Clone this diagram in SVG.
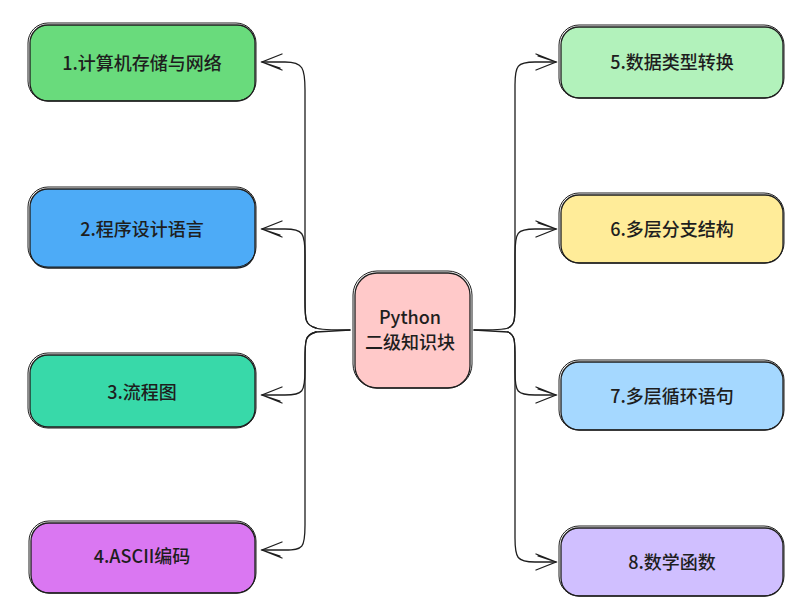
<svg xmlns="http://www.w3.org/2000/svg" width="803" height="615" viewBox="0 0 803 615">
<defs>
<marker id="arr" viewBox="0 0 24 24" refX="22" refY="12" markerWidth="24" markerHeight="24" markerUnits="userSpaceOnUse" orient="auto">
<path d="M2,4 L22,12 L2,20 M4,6 L22,12" fill="none" stroke="#1e1e1e" stroke-width="1.3" stroke-linecap="round"/>
</marker>
<style>
.lbl{font-family:"Noto Sans CJK SC","Noto Sans",sans-serif;font-size:18px;font-weight:500;fill:#1e1e1e;text-anchor:middle;dominant-baseline:central}
.box{stroke:#1e1e1e;stroke-width:1.3}
.ol{fill:none;stroke:#1e1e1e;stroke-width:1}
.cn{fill:none;stroke:#1e1e1e;stroke-width:1.3;stroke-linecap:round}
</style>
</defs>
<rect width="803" height="615" fill="#ffffff"/>
<g id="connectors">
<path class="cn" d="M350,330 C330,330 320,330 316,328 C305,325 305,320 305,300 L305,90 C305,68 303,62 285,62 L262,62" marker-end="url(#arr)"/>
<path class="cn" d="M316,328 C305,325 305,320 305,300 L305,255 C305,233 303,229 285,229 L262,229" marker-end="url(#arr)"/>
<path class="cn" d="M316,332 C305,335 305,340 305,360 L305,370 C305,392 303,395 285,395 L262,395" marker-end="url(#arr)"/>
<path class="cn" d="M316,332 C305,335 305,340 305,360 L305,525 C305,548 303,550 285,550 L262,550" marker-end="url(#arr)"/>
<path class="cn" d="M350,330 L316,332"/>
<path class="cn" d="M474,330 C494,330 504,330 508,328 C515,325 515,320 515,300 L515,85 C515,66 517,62 535,62 L556,62" marker-end="url(#arr)"/>
<path class="cn" d="M508,328 C515,325 515,320 515,300 L515,255 C515,232 517,229 535,229 L556,229" marker-end="url(#arr)"/>
<path class="cn" d="M508,332 C515,335 515,340 515,360 L515,372 C515,392 517,395 535,395 L556,395" marker-end="url(#arr)"/>
<path class="cn" d="M508,332 C515,335 515,340 515,360 L515,538 C515,558 517,562 535,562 L556,562" marker-end="url(#arr)"/>
<path class="cn" d="M474,330 L508,332"/>
</g>
<g id="node1">
<rect class="box" x="30" y="25" width="225" height="76" rx="18" fill="#69db7c"/>
<rect class="ol" x="28" y="23" width="228" height="78" rx="20"/>
<text class="lbl" x="142" y="62">1.计算机存储与网络</text>
</g>
<g id="node2">
<rect class="box" x="30" y="189" width="225" height="79" rx="18" fill="#4dabf7"/>
<rect class="ol" x="28" y="187" width="228" height="80" rx="20"/>
<text class="lbl" x="142" y="228">2.程序设计语言</text>
</g>
<g id="node3">
<rect class="box" x="30" y="355" width="225" height="72" rx="18" fill="#38d9a9"/>
<rect class="ol" x="28" y="353" width="228" height="75" rx="20"/>
<text class="lbl" x="142" y="391">3.流程图</text>
</g>
<g id="node4">
<rect class="box" x="31" y="523" width="224" height="70" rx="18" fill="#da77f2"/>
<rect class="ol" x="29" y="521" width="227" height="72" rx="20"/>
<text class="lbl" x="142" y="555">4.ASCII编码</text>
</g>
<g id="center">
<rect class="box" x="355" y="273" width="115" height="115" rx="22" fill="#ffc9c9"/>
<rect class="ol" x="353" y="271" width="119" height="117" rx="24"/>
<text class="lbl" x="410" y="316">Python</text>
<text class="lbl" x="410" y="341">二级知识块</text>
</g>
<g id="node5">
<rect class="box" x="561" y="27" width="222" height="71" rx="18" fill="#b2f2bb"/>
<rect class="ol" x="559" y="25" width="225" height="73" rx="20"/>
<text class="lbl" x="672" y="61">5.数据类型转换</text>
</g>
<g id="node6">
<rect class="box" x="561" y="195" width="222" height="68" rx="18" fill="#ffec99"/>
<rect class="ol" x="559" y="193" width="225" height="70" rx="20"/>
<text class="lbl" x="672" y="228">6.多层分支结构</text>
</g>
<g id="node7">
<rect class="box" x="561" y="362" width="222" height="68" rx="18" fill="#a5d8ff"/>
<rect class="ol" x="559" y="360" width="225" height="70" rx="20"/>
<text class="lbl" x="672" y="395">7.多层循环语句</text>
</g>
<g id="node8">
<rect class="box" x="561" y="528" width="222" height="68" rx="18" fill="#d0bfff"/>
<rect class="ol" x="559" y="526" width="225" height="70" rx="20"/>
<text class="lbl" x="672" y="561">8.数学函数</text>
</g>
</svg>
